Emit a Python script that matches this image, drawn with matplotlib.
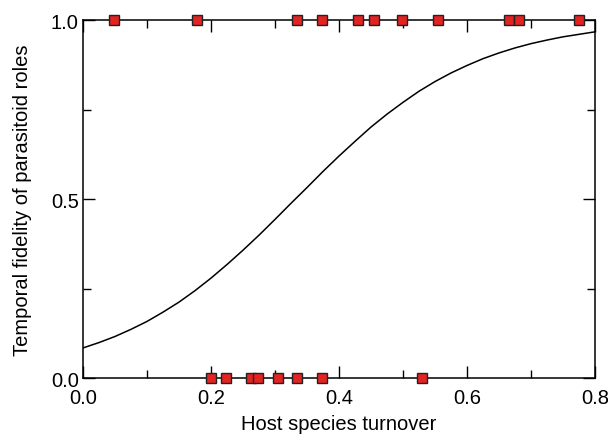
import numpy as np
import matplotlib
matplotlib.use("Agg")
import matplotlib.pyplot as plt
from matplotlib.ticker import MultipleLocator, FormatStrFormatter

# observed roles: 1 = kept role, 0 = changed role
turnover_kept = [0.048, 0.178, 0.334, 0.374, 0.429, 0.454, 0.499, 0.554, 0.666, 0.681, 0.775]
turnover_changed = [0.200, 0.223, 0.262, 0.273, 0.304, 0.334, 0.374, 0.529]

# fitted curve
curve_x = [0.0, 0.025, 0.05, 0.075, 0.1, 0.125, 0.15, 0.175, 0.2, 0.225, 0.25, 0.275,
           0.3, 0.325, 0.35, 0.375, 0.4, 0.425, 0.45, 0.475, 0.5, 0.525, 0.55, 0.575,
           0.6, 0.625, 0.65, 0.675, 0.7, 0.725, 0.75, 0.775, 0.8]
curve_y = [0.084, 0.099, 0.116, 0.136, 0.158, 0.184, 0.212, 0.244, 0.279, 0.317, 0.357, 0.399,
           0.443, 0.488, 0.532, 0.577, 0.620, 0.661, 0.701, 0.737, 0.770, 0.801, 0.828, 0.852,
           0.873, 0.892, 0.908, 0.922, 0.934, 0.944, 0.953, 0.960, 0.967]

plt.rcParams['font.family'] = ['Liberation Sans', 'DejaVu Sans']

fig = plt.figure(figsize=(6.08, 4.35), dpi=100)
ax = fig.add_axes([0.1365, 0.1287, 0.8421, 0.823])

ax.plot(curve_x, curve_y, color="black", linewidth=1.1, zorder=2)

marker_style = dict(linestyle="none", marker="s", markersize=7.5, markerfacecolor="#e32222",
                    markeredgecolor="#222222", markeredgewidth=1.0, clip_on=False, zorder=5)
ax.plot(turnover_kept, np.ones(len(turnover_kept)), **marker_style)
ax.plot(turnover_changed, np.zeros(len(turnover_changed)), **marker_style)

ax.set_xlim(0, 0.8)
ax.set_ylim(0, 1.0)
ax.xaxis.set_major_locator(MultipleLocator(0.2))
ax.xaxis.set_minor_locator(MultipleLocator(0.1))
ax.yaxis.set_major_locator(MultipleLocator(0.5))
ax.yaxis.set_minor_locator(MultipleLocator(0.25))
ax.xaxis.set_major_formatter(FormatStrFormatter("%.1f"))
ax.yaxis.set_major_formatter(FormatStrFormatter("%.1f"))

ax.tick_params(which="both", direction="in", top=True, right=True, width=1.0, labelsize=14.5)
ax.tick_params(which="major", length=8.5)
ax.tick_params(which="minor", length=5.5)
ax.tick_params(axis="x", which="major", pad=7)
ax.tick_params(axis="y", which="major", pad=3)
for s in ax.spines.values():
    s.set_linewidth(1.1)

ax.set_xlabel("Host species turnover", fontsize=14.5, labelpad=5)
ax.set_ylabel("Temporal fidelity of parasitoid roles", fontsize=14.5, labelpad=14)

fig.savefig("out.png", dpi=100)
